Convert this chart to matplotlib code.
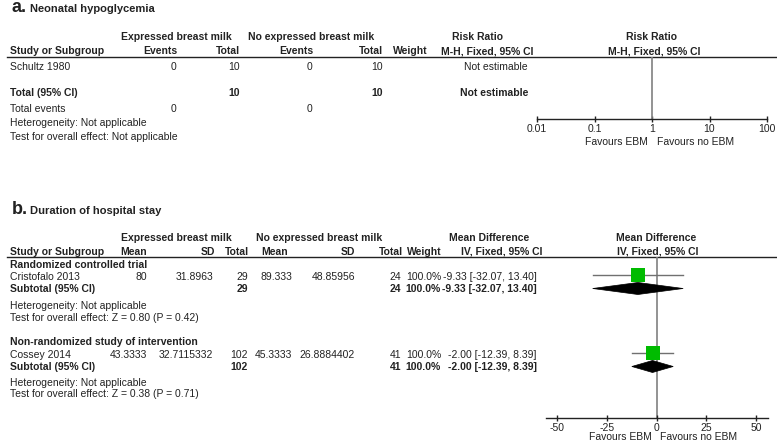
import matplotlib
matplotlib.use("Agg")
import matplotlib.pyplot as plt
from matplotlib.patches import Polygon

# panel a data (risk ratio, dichotomous)
studies_a = ["Schultz 1980"]
ebm_events = [0]
ebm_total = [10]
no_events = [0]
no_total = [10]
rr_ticks = [0.01, 0.1, 1, 10, 100]
rr_ticklabels = ["0.01", "0.1", "1", "10", "100"]

# panel b data (mean difference, continuous)
groups_b = ["Randomized controlled trial", "Non-randomized study of intervention"]
studies_b = ["Cristofalo 2013", "Cossey 2014"]
ebm_mean = [80, 43.3333]
ebm_sd = [31.8963, 32.7115332]
ebm_n = [29, 102]
no_mean = [89.333, 45.3333]
no_sd = [48.85956, 26.8884402]
no_n = [24, 41]
weight = [100.0, 100.0]
md = [-9.33, -2.00]
ci_lo = [-32.07, -12.39]
ci_hi = [13.40, 8.39]
z_vals = [0.80, 0.38]
p_vals = [0.42, 0.71]
md_ticks = [-50, -25, 0, 25, 50]

plt.rcParams['font.family'] = ['Liberation Sans', 'DejaVu Sans']
plt.rcParams['axes.unicode_minus'] = False
TXT = '#222222'
FS = 7.5

W, H = 777, 442
fig = plt.figure(figsize=(W / 100, H / 100), dpi=100)
ax0 = fig.add_axes([0, 0, 1, 1])
ax0.set_xlim(0, W)
ax0.set_ylim(H, 0)
ax0.axis('off')


def t(x, y, s, ha='left', bold=False, size=FS):
    # y is the visual centre of the row in pixels
    ax0.text(x, y + 3.8, s, ha=ha, va='baseline', fontsize=size,
             fontweight='bold' if bold else 'normal', color=TXT)


def forest_axes(left, right, top, bottom):
    a = fig.add_axes([left / W, 1 - bottom / H, (right - left) / W, (bottom - top) / H])
    a.patch.set_alpha(0)
    for s in ['top', 'right', 'left']:
        a.spines[s].set_visible(False)
    a.spines['bottom'].set_color(TXT)
    a.spines['bottom'].set_linewidth(1)
    a.set_yticks([])
    a.tick_params(axis='x', direction='inout', length=5, width=1, colors=TXT,
                  labelsize=FS, pad=1.2)
    return a


# ---------------- panel a ----------------
ax0.text(12, 12.5, "a.", fontsize=13, fontweight='bold', color=TXT, va='baseline')
ax0.text(30, 12, "Neonatal hypoglycemia", fontsize=8, fontweight='bold', color=TXT, va='baseline')

t(176.5, 36.5, "Expressed breast milk", ha='center', bold=True)
t(311.5, 36.5, "No expressed breast milk", ha='center', bold=True)
t(478, 36.5, "Risk Ratio", ha='center', bold=True)
t(652, 36.5, "Risk Ratio", ha='center', bold=True)

t(10, 50.5, "Study or Subgroup", bold=True)
t(177, 50.5, "Events", ha='right', bold=True)
t(240, 50.5, "Total", ha='right', bold=True)
t(313, 50.5, "Events", ha='right', bold=True)
t(383, 50.5, "Total", ha='right', bold=True)
t(410, 50.5, "Weight", ha='center', bold=True)
t(533, 50.5, "M-H, Fixed, 95% CI", ha='right', bold=True)
t(654, 50.5, "M-H, Fixed, 95% CI", ha='center', bold=True)
ax0.plot([7, W], [57, 57], color=TXT, lw=1)

for i, s in enumerate(studies_a):
    y = 66.5 + i * 14
    t(10, y, s)
    t(176, y, str(ebm_events[i]), ha='right')
    t(240, y, str(ebm_total[i]), ha='right')
    t(312, y, str(no_events[i]), ha='right')
    t(383, y, str(no_total[i]), ha='right')
    t(528, y, "Not estimable", ha='right')

t(10, 92, "Total (95% CI)", bold=True)
t(240, 92, str(sum(ebm_total)), ha='right', bold=True)
t(383, 92, str(sum(no_total)), ha='right', bold=True)
t(528, 92, "Not estimable", ha='right', bold=True)
t(10, 108, "Total events")
t(176, 108, str(sum(ebm_events)), ha='right')
t(312, 108, str(sum(no_events)), ha='right')
t(10, 122, "Heterogeneity: Not applicable")
t(10, 136, "Test for overall effect: Not applicable")

axa = forest_axes(537, 767, 57, 119)
axa.set_xscale('log')
axa.set_xlim(rr_ticks[0], rr_ticks[-1])
axa.set_xticks(rr_ticks)
axa.set_xticklabels(rr_ticklabels)
axa.minorticks_off()
axa.axvline(1, color='#808080', lw=1.2)
t(648, 141, "Favours EBM", ha='right')
t(657, 141, "Favours no EBM")

# ---------------- panel b ----------------
ax0.text(12, 214, "b.", fontsize=13, fontweight='bold', color=TXT, va='baseline')
ax0.text(30, 213.5, "Duration of hospital stay", fontsize=8, fontweight='bold', color=TXT, va='baseline')

t(176.5, 237.5, "Expressed breast milk", ha='center', bold=True)
t(319, 237.5, "No expressed breast milk", ha='center', bold=True)
t(489.5, 237.5, "Mean Difference", ha='center', bold=True)
t(656, 237.5, "Mean Difference", ha='center', bold=True)

# right edges of the numeric columns
c_mean_e, c_sd_e, c_n_e = 147, 213, 248
c_mean_n, c_sd_n, c_n_n = 292, 355, 401
c_w, c_md = 441, 537

t(10, 251, "Study or Subgroup", bold=True)
t(c_mean_e, 251, "Mean", ha='right', bold=True)
t(c_sd_e + 2, 251, "SD", ha='right', bold=True)
t(c_n_e + 1, 251, "Total", ha='right', bold=True)
t(c_mean_n - 4, 251, "Mean", ha='right', bold=True)
t(c_sd_n, 251, "SD", ha='right', bold=True)
t(c_n_n + 2, 251, "Total", ha='right', bold=True)
t(c_w + 1, 251, "Weight", ha='right', bold=True)
t(542, 251, "IV, Fixed, 95% CI", ha='right', bold=True)
t(658, 251, "IV, Fixed, 95% CI", ha='center', bold=True)
ax0.plot([7, W], [257, 257], color=TXT, lw=1)

# per-row layout: group header, study row, subtotal, heterogeneity, test
rows_y = [(264, 276.5, 288.5, 305, 317.5), (341, 354, 366.5, 382, 393)]

axb = forest_axes(546, 768, 257, 418)
axb.set_xlim(-55.5, 56)
axb.set_ylim(418, 257)
axb.set_xticks(md_ticks)
axb.axvline(0, color='#808080', lw=1.2, zorder=1)

for i in range(len(studies_b)):
    yg, ys, yt, yh, yz = rows_y[i]
    t(10, yg, groups_b[i], bold=True)
    t(10, ys, studies_b[i])
    t(c_mean_e, ys, str(ebm_mean[i]), ha='right')
    t(c_sd_e, ys, str(ebm_sd[i]), ha='right')
    t(c_n_e, ys, str(ebm_n[i]), ha='right')
    t(c_mean_n, ys, str(no_mean[i]), ha='right')
    t(c_sd_n, ys, str(no_sd[i]), ha='right')
    t(c_n_n, ys, str(no_n[i]), ha='right')
    t(c_w, ys, f"{weight[i]:.1f}%", ha='right')
    t(c_md, ys, f"{md[i]:.2f} [{ci_lo[i]:.2f}, {ci_hi[i]:.2f}]", ha='right')

    t(10, yt, "Subtotal (95% CI)", bold=True)
    t(c_n_e, yt, str(ebm_n[i]), ha='right', bold=True)
    t(c_n_n, yt, str(no_n[i]), ha='right', bold=True)
    t(c_w, yt, f"{weight[i]:.1f}%", ha='right', bold=True)
    t(c_md, yt, f"{md[i]:.2f} [{ci_lo[i]:.2f}, {ci_hi[i]:.2f}]", ha='right', bold=True)

    t(10, yh, "Heterogeneity: Not applicable")
    t(10, yz, f"Test for overall effect: Z = {z_vals[i]:.2f} (P = {p_vals[i]:.2f})")

    # study estimate and CI
    axb.plot([ci_lo[i], ci_hi[i]], [ys - 1.5, ys - 1.5], color='#707070', lw=1, zorder=2)
    axb.plot([md[i]], [ys - 1.5], marker='s', markersize=10, color='#00BB00',
             markeredgewidth=0, linestyle='none', zorder=3)
    # pooled diamond
    dy = 6
    axb.add_patch(Polygon([[ci_lo[i], yt], [md[i], yt - dy], [ci_hi[i], yt], [md[i], yt + dy]],
                          closed=True, facecolor='black', edgecolor='black', lw=0.5, zorder=4))

t(652, 436.5, "Favours EBM", ha='right')
t(660, 436.5, "Favours no EBM")

fig.savefig("out.png", dpi=100)
